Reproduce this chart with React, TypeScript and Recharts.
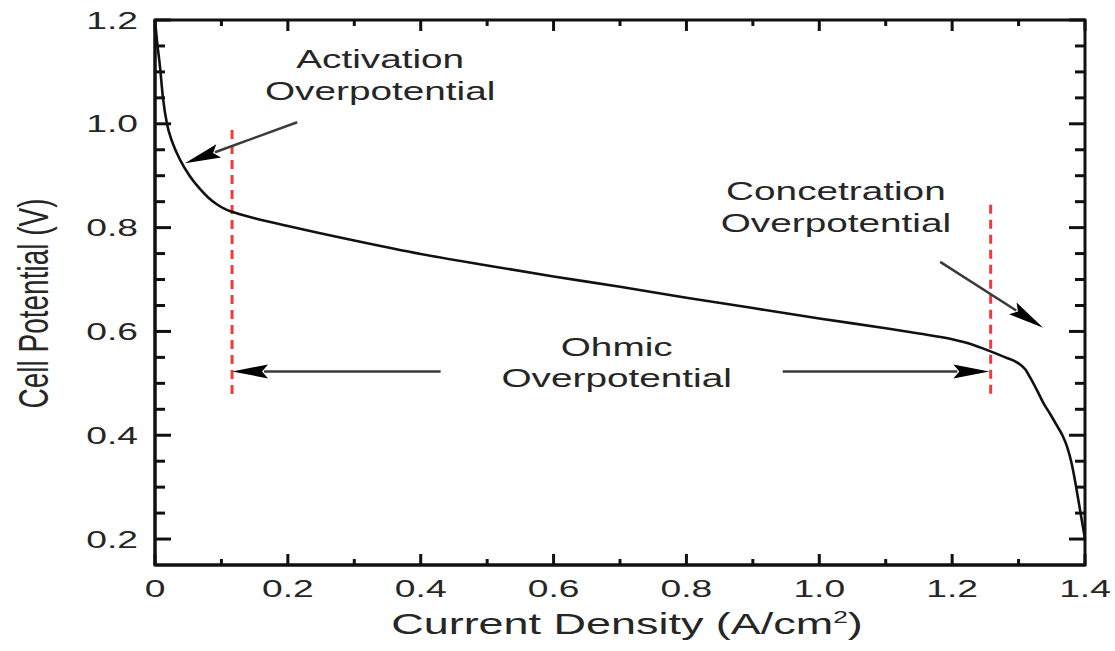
import { ComposedChart, Line, XAxis, YAxis, ReferenceLine, ReferenceDot, ReferenceArea } from 'recharts';

// polarization curve
const currentDensity = [
  0, 0.003, 0.0075, 0.012, 0.018, 0.026, 0.038, 0.052, 0.068, 0.08, 0.093, 0.105, 0.117, 0.15, 0.2, 0.3,
  0.4, 0.5, 0.6, 0.7, 0.8, 0.9, 1.0, 1.1, 1.15, 1.2, 1.23, 1.257, 1.28, 1.298, 1.31, 1.318, 1.328, 1.337,
  1.348, 1.358, 1.366, 1.373, 1.38, 1.386, 1.392, 1.396, 1.4,
];
const cellPotential = [
  1.2, 1.16, 1.11, 1.05, 1.0, 0.965, 0.93, 0.9, 0.874, 0.858, 0.845, 0.836, 0.83, 0.818, 0.803, 0.775,
  0.749, 0.727, 0.706, 0.686, 0.665, 0.645, 0.625, 0.606, 0.596, 0.585, 0.575, 0.562, 0.55, 0.54, 0.527,
  0.51, 0.486, 0.463, 0.44, 0.418, 0.4, 0.378, 0.345, 0.305, 0.26, 0.23, 0.2,
];

const xTicks = [0, 0.1, 0.2, 0.3, 0.4, 0.5, 0.6, 0.7, 0.8, 0.9, 1.0, 1.1, 1.2, 1.3, 1.4];
const xTickLabels = ['0', '0.2', '0.4', '0.6', '0.8', '1.0', '1.2', '1.4'];
const yTicks = [
  0.2, 0.25, 0.3, 0.35, 0.4, 0.45, 0.5, 0.55, 0.6, 0.65, 0.7, 0.75, 0.8, 0.85, 0.9, 0.95, 1.0, 1.05, 1.1,
  1.15, 1.2,
];
const yTickLabels = ['0.2', '0.4', '0.6', '0.8', '1.0', '1.2'];

// region boundaries (dashed red) and annotation arrows, in data units
const activationLimit = 0.116;
const ohmicLimit = 1.258;
const ohmicArrowLevel = 0.523;

const data = currentDensity.map((x, i) => ({ x, v: cellPotential[i] }));

const FONT = 'Liberation Sans, Arial, Helvetica, sans-serif';
const TEXT = '#262626';
const INK = '#111';
const STRETCH = 1.55; // the source figure is stretched sideways

const isMajor = (v: number, step: number) => Math.abs(v / step - Math.round(v / step)) < 1e-6;

const BottomTick = (props: any) => {
  const { x, y, payload } = props;
  const major = isMajor(payload.value, 0.2);
  const label = xTickLabels[Math.round(payload.value / 0.2)];
  return (
    <g>
      <line x1={x} y1={y} x2={x} y2={y - (major ? 11 : 6)} stroke={INK} strokeWidth={3} />
      {major && (
        <text transform={`translate(${x},${y + 32}) scale(${STRETCH},1)`} textAnchor="middle"
          fontFamily={FONT} fontSize={24} fill={TEXT}>{label}</text>
      )}
    </g>
  );
};

// mirrored axes sit 1px outside the plot, so shift back onto the frame
const TopTick = (props: any) => {
  const { x, payload } = props;
  const major = isMajor(payload.value, 0.2);
  const y0 = 20;
  return <line x1={x} y1={y0} x2={x} y2={y0 + (major ? 11 : 6)} stroke={INK} strokeWidth={3} />;
};

const LeftTick = (props: any) => {
  const { x, y, payload } = props;
  const major = isMajor(payload.value, 0.2);
  const label = yTickLabels[Math.round(payload.value / 0.2) - 1];
  return (
    <g>
      <line x1={x} y1={y} x2={x + (major ? 16 : 10)} y2={y} stroke={INK} strokeWidth={3} />
      {major && (
        <text transform={`translate(${x - 17},${y + 8.5}) scale(${STRETCH},1)`} textAnchor="end"
          fontFamily={FONT} fontSize={24} fill={TEXT}>{label}</text>
      )}
    </g>
  );
};

const RightTick = (props: any) => {
  const { y, payload } = props;
  const major = isMajor(payload.value, 0.2);
  const x0 = 1085;
  return <line x1={x0} y1={y} x2={x0 - (major ? 16 : 10)} y2={y} stroke={INK} strokeWidth={3} />;
};

const XTitle = (props: any) => {
  const { viewBox } = props;
  const cx = viewBox.x + viewBox.width / 2 + 7;
  const by = viewBox.y + 69;
  return (
    <text transform={`translate(${cx},${by}) scale(${STRETCH},1)`} textAnchor="middle"
      fontFamily={FONT} fontSize={29} fill={TEXT}>
      Current Density (A/cm<tspan dy={-11} fontSize={17}>2</tspan><tspan dy={11}>)</tspan>
    </text>
  );
};

const YTitle = (props: any) => {
  const { viewBox } = props;
  const cy = viewBox.y + viewBox.height / 2 + 11;
  return (
    <text transform={`translate(48,${cy}) scale(${STRETCH},1) rotate(-90)`} textAnchor="middle"
      fontFamily={FONT} fontSize={28} fill={TEXT}>
      Cell Potential (V)
    </text>
  );
};

const arrowShape = (props: any) => {
  const { x1, y1, x2, y2 } = props;
  const dx = x2 - x1;
  const dy = y2 - y1;
  const len = Math.hypot(dx, dy) || 1;
  const ux = dx / len;
  const uy = dy / len;
  const hl = 36;
  const hw = 7;
  const bx = x2 - ux * hl;
  const by = y2 - uy * hl;
  return (
    <g>
      <line x1={x1} y1={y1} x2={bx + ux * 4} y2={by + uy * 4} stroke="#3a3a3a" strokeWidth={2.5} />
      <polygon
        points={`${x2},${y2} ${bx - uy * hw},${by + ux * hw} ${bx + ux * 6},${by + uy * 6} ${bx + uy * hw},${by - ux * hw}`}
        fill="#000"
      />
    </g>
  );
};

const noteShape = (text: string) => (props: any) => (
  <text transform={`translate(${props.cx},${props.cy}) scale(${STRETCH},1)`} textAnchor="middle"
    fontFamily={FONT} fontSize={25} fill={TEXT}>{text}</text>
);

export default function App() {
  return (
    <div style={{ position: 'absolute', left: 0, top: 0, background: '#fff' }}>
      <ComposedChart width={1115} height={651} data={data} margin={{ top: 19, right: 29, bottom: 0, left: 0 }}>
        <XAxis dataKey="x" type="number" domain={[0, 1.4]} ticks={xTicks} interval={0} height={86}
          tickSize={0} tickMargin={0} tick={<BottomTick />} axisLine={{ stroke: INK, strokeWidth: 3 }}
          label={<XTitle />} />
        <XAxis xAxisId="top" orientation="top" dataKey="x" type="number" domain={[0, 1.4]} ticks={xTicks}
          interval={0} height={1} tickSize={0} tickMargin={0} tick={<TopTick />} axisLine={false} />
        <YAxis type="number" domain={[0.15, 1.2]} ticks={yTicks} interval={0} width={155} tickSize={0}
          tickMargin={0} tick={<LeftTick />} axisLine={{ stroke: INK, strokeWidth: 3 }} label={<YTitle />} />
        <YAxis yAxisId="right" orientation="right" type="number" domain={[0.15, 1.2]} ticks={yTicks}
          interval={0} width={1} tickSize={0} tickMargin={0} tick={<RightTick />} axisLine={false} />

        <ReferenceArea x1={0} x2={1.4} y1={0.15} y2={1.2} fill="none" stroke={INK} strokeWidth={3}
          fillOpacity={0} ifOverflow="visible" />

        <ReferenceLine segment={[{ x: activationLimit, y: 0.988 }, { x: activationLimit, y: 0.47 }]}
          stroke="#f23a3a" strokeWidth={3} strokeDasharray="9 6" />
        <ReferenceLine segment={[{ x: ohmicLimit, y: 0.844 }, { x: ohmicLimit, y: 0.478 }]}
          stroke="#f23a3a" strokeWidth={3} strokeDasharray="9 6" />

        {/* invisible copy so the mirrored top/right axes get drawn */}
        <Line xAxisId="top" yAxisId="right" dataKey="v" type="monotone" stroke="none" dot={false}
          legendType="none" isAnimationActive={false} />
        <Line dataKey="v" type="monotone" stroke={INK} strokeWidth={2.6} dot={false} isAnimationActive={false} />

        <ReferenceLine segment={[{ x: 0.214, y: 1.003 }, { x: 0.045, y: 0.924 }]} shape={arrowShape} />
        <ReferenceLine segment={[{ x: 1.182, y: 0.734 }, { x: 1.337, y: 0.607 }]} shape={arrowShape} />
        <ReferenceLine segment={[{ x: 0.43, y: ohmicArrowLevel }, { x: activationLimit, y: ohmicArrowLevel }]}
          shape={arrowShape} />
        <ReferenceLine segment={[{ x: 0.945, y: ohmicArrowLevel }, { x: ohmicLimit - 0.002, y: ohmicArrowLevel }]}
          shape={arrowShape} />

        <ReferenceDot x={0.339} y={1.1075} r={1} shape={noteShape('Activation')} />
        <ReferenceDot x={0.339} y={1.046} r={1} shape={noteShape('Overpotential')} />
        <ReferenceDot x={1.025} y={0.853} r={1} shape={noteShape('Concetration')} />
        <ReferenceDot x={1.025} y={0.7915} r={1} shape={noteShape('Overpotential')} />
        <ReferenceDot x={0.695} y={0.553} r={1} shape={noteShape('Ohmic')} />
        <ReferenceDot x={0.695} y={0.493} r={1} shape={noteShape('Overpotential')} />
      </ComposedChart>
    </div>
  );
}
